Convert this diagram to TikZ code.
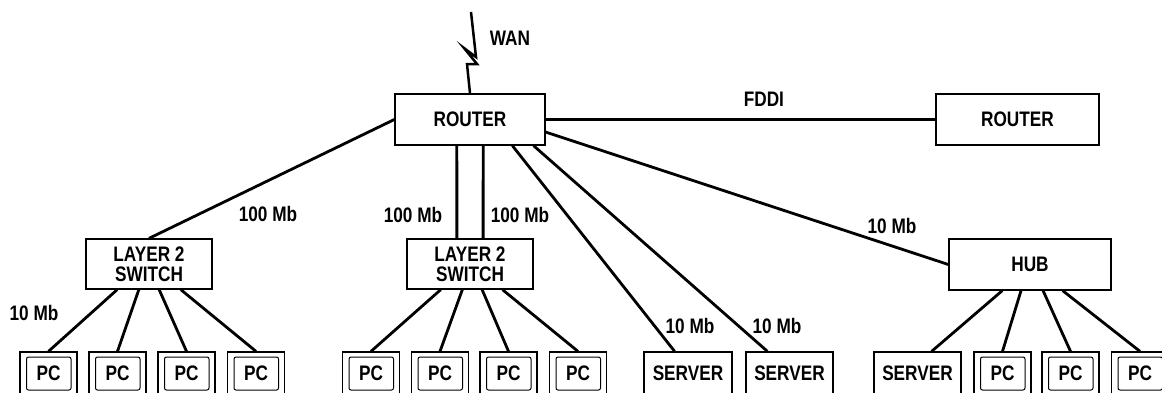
\documentclass[tikz,border=0pt]{standalone}
\usepackage{fontspec}
\setmainfont{Liberation Sans}[FakeStretch=0.82]
\usetikzlibrary{calc,positioning}

\tikzset{
  netbox/.style={draw, line width=1.3pt, inner sep=0pt, align=center,
    font=\fontsize{21}{20}\selectfont\bfseries},
  pcbox/.style={netbox, minimum width=57pt, minimum height=43pt,
    path picture={\draw[line width=1pt, rounded corners=2pt]
      ([shift={(6.5pt,-5pt)}]path picture bounding box.north west) rectangle
      ([shift={(-6pt,5pt)}]path picture bounding box.south east);}},
  srvbox/.style={netbox, minimum width=87pt, minimum height=43pt},
  link/.style={line width=2.8pt},
  speed/.style={inner sep=0pt, font=\fontsize{21}{20}\selectfont\bfseries},
}

\begin{document}
\begin{tikzpicture}[x=1pt,y=-1pt]
    \clip (0,0) rectangle (1162,392);

    % routers, switches, hub
    \node[netbox, minimum width=150pt, minimum height=51pt] (router) at (470,119.5) {ROUTER};
    \node[netbox, minimum width=163pt, minimum height=51pt] (router2) at (1017.5,119.5) {ROUTER};
    \node[netbox, minimum width=126pt, minimum height=50pt] (swA) at (149,264) {LAYER 2\\SWITCH};
    \node[netbox, minimum width=126pt, minimum height=50pt] (swB) at (470,264) {LAYER 2\\SWITCH};
    \node[netbox, minimum width=162pt, minimum height=51pt] (hub) at (1030,264.5) {HUB};

    % end stations
    \node[pcbox] (pcA1) at (48.5,373.5) {PC};
    \node[pcbox] (pcA2) at (117.5,373.5) {PC};
    \node[pcbox] (pcA3) at (186.5,373.5) {PC};
    \node[pcbox] (pcA4) at (256,373.5) {PC};

    \node[pcbox] (pcB1) at (371,373.5) {PC};
    \node[pcbox] (pcB2) at (440,373.5) {PC};
    \node[pcbox] (pcB3) at (508.5,373.5) {PC};
    \node[pcbox] (pcB4) at (578,373.5) {PC};

    \node[srvbox, minimum width=88pt] (srv1) at (688,373.5) {SERVER};
    \node[srvbox] (srv2) at (789.5,373.5) {SERVER};

    \node[srvbox] (srv3) at (917.5,373.5) {SERVER};
    \node[pcbox] (pcC1) at (1002.5,373.5) {PC};
    \node[pcbox] (pcC2) at (1070.5,373.5) {PC};
    \node[pcbox] (pcC3) at (1140,373.5) {PC};

    % WAN link
    \coordinate (wantop) at (471,12);
    \draw[line width=2.5pt] (wantop) -- (476,57) -- (464,48) -- (477,64) -- (467,64) -- (router.north);
    \node[speed] (wan) at (510,38) {WAN};

    % backbone
    \draw[link] (router.east) -- (router2.west) node[speed, pos=0.56, above=12pt] (fddi) {FDDI};
    \draw[link] (router.west) -- (swA.north);
    \draw[link] ($(router.south west)!0.413!(router.south east)$) -- ($(swB.north west)!0.397!(swB.north east)$);
    \draw[link] ($(router.south west)!0.587!(router.south east)$) -- ($(swB.north west)!0.603!(swB.north east)$);
    \draw[link] ($(router.south west)!0.78!(router.south east)$) -- ($(srv1.north west)!0.35!(srv1.north east)$);
    \draw[link] ($(router.south west)!0.92!(router.south east)$) -- ($(srv2.north west)!0.25!(srv2.north east)$);
    \draw[link] ($(router.north east)!0.74!(router.south east)$) -- (hub.west);

    % access links
    \draw[link] ($(swA.south west)!0.25!(swA.south east)$) -- (pcA1.north);
    \draw[link] ($(swA.south west)!0.42!(swA.south east)$) -- (pcA2.north);
    \draw[link] ($(swA.south west)!0.58!(swA.south east)$) -- (pcA3.north);
    \draw[link] ($(swA.south west)!0.75!(swA.south east)$) -- (pcA4.north);

    \draw[link] ($(swB.south west)!0.27!(swB.south east)$) -- (pcB1.north);
    \draw[link] ($(swB.south west)!0.44!(swB.south east)$) -- (pcB2.north);
    \draw[link] ($(swB.south west)!0.595!(swB.south east)$) -- (pcB3.north);
    \draw[link] ($(swB.south west)!0.755!(swB.south east)$) -- (pcB4.north);

    \draw[link] ($(hub.south west)!0.33!(hub.south east)$) -- ($(srv3.north west)!0.66!(srv3.north east)$);
    \draw[link] ($(hub.south west)!0.445!(hub.south east)$) -- (pcC1.north);
    \draw[link] ($(hub.south west)!0.58!(hub.south east)$) -- (pcC2.north);
    \draw[link] ($(hub.south west)!0.70!(hub.south east)$) -- (pcC3.north);

    % link speeds
    \node[speed] (spA) at (268,214) {100 Mb};
    \node[speed] (spB) at (413,215) {100 Mb};
    \node[speed] (spC) at (520,215) {100 Mb};
    \node[speed] (spD) at (892,226) {10 Mb};
    \node[speed] (spE) at (34,313) {10 Mb};
    \node[speed] (spF) at (690,326) {10 Mb};
    \node[speed] (spG) at (777,326) {10 Mb};
\end{tikzpicture}
\end{document}
